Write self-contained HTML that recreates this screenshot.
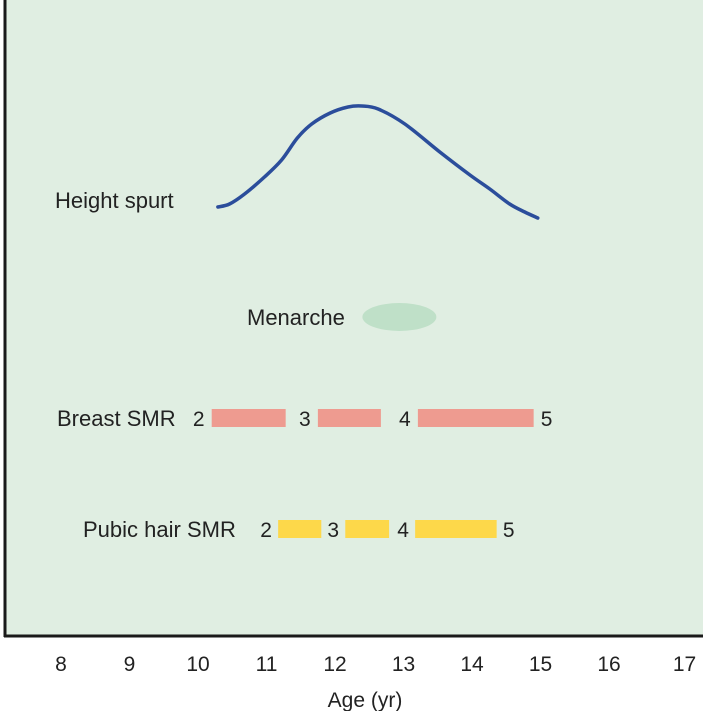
<!DOCTYPE html>
<html><head><meta charset="utf-8"><style>
body{margin:0;background:#fff;}
svg{display:block;font-family:"Liberation Sans",sans-serif;}
</style></head><body>
<svg id="chart" width="703" height="711">
<rect x="4" y="0" width="699" height="636" fill="#e0eee2"/>
<line x1="5" y1="0" x2="5" y2="637" stroke="#1a1a1a" stroke-width="3"/>
<line x1="4" y1="636" x2="703" y2="636" stroke="#1a1a1a" stroke-width="3"/>
<text x="365" y="707" font-size="21" text-anchor="middle" fill="#222">Age (yr)</text>
<text x="55" y="208" font-size="22" fill="#222">Height spurt</text>
<text x="247" y="325" font-size="22" fill="#222">Menarche</text>
<text x="57" y="426" font-size="22" fill="#222">Breast SMR</text>
<text x="83" y="537" font-size="22" fill="#222">Pubic hair SMR</text>
<g id="g"></g>
</svg>
<script>
const ticks=[8,9,10,11,12,13,14,15,16,17];
const curveAges=[10.29,10.46,10.68,10.97,11.22,11.45,11.66,11.93,12.19,12.39,12.63,13.02,13.53,13.97,14.26,14.55,14.77,14.96];
const curveVals=[2.3,2.6,3.6,5.3,7.0,9.2,10.6,11.7,12.3,12.4,12.1,10.6,7.8,5.5,4.1,2.6,1.8,1.2];
const menarcheAge=[12.94];
const breastStarts=[10.2,11.75,13.21];
const breastEnds=[11.28,12.67,14.9];
const breastLabels=["2","3","4","5"];
const pubicStarts=[11.17,12.15,13.17];
const pubicEnds=[11.8,12.79,14.36];
const pubicLabels=["2","3","4","5"];
const X=a=>61+(a-8)*68.5;
const Y=v=>230-v*10;
const NS="http://www.w3.org/2000/svg";
const g=document.getElementById('g');
function mk(t,attrs){const e=document.createElementNS(NS,t);for(const k in attrs)e.setAttribute(k,attrs[k]);g.appendChild(e);return e;}
ticks.forEach(t=>{const e=mk('text',{x:X(t)+(t==17?7:0),y:671,'font-size':21,'text-anchor':'middle',fill:'#222'});e.textContent=t;

});
const pts=curveAges.map((a,i)=>[X(a),Y(curveVals[i])]);
let d='M'+pts[0][0]+','+pts[0][1];
for(let i=0;i<pts.length-1;i++){const p0=pts[Math.max(0,i-1)],p1=pts[i],p2=pts[i+1],p3=pts[Math.min(pts.length-1,i+2)];
d+=' C'+(p1[0]+(p2[0]-p0[0])/6)+','+(p1[1]+(p2[1]-p0[1])/6)+' '+(p2[0]-(p3[0]-p1[0])/6)+','+(p2[1]-(p3[1]-p1[1])/6)+' '+p2[0]+','+p2[1];}
const p=mk('path',{d:d,fill:'none',stroke:'#2b4d9b','stroke-width':3.5,'stroke-linejoin':'round','stroke-linecap':'round'});


const el=mk('ellipse',{cx:X(menarcheAge[0]),cy:317,rx:37,ry:14,fill:'#bfe0c8'});


function bars(starts,ends,labels,cy,color,name,offs){
 starts.forEach((s,i)=>{const r=mk('rect',{x:X(s),y:cy-9,width:X(ends[i])-X(s),height:18,fill:color});
 
 });
 labels.forEach((l,i)=>{const x=i<starts.length?X(starts[i])-offs:X(ends[ends.length-1])+offs;
 const t=mk('text',{x:x,y:cy+8,'font-size':21,'text-anchor':'middle',fill:'#222'});t.textContent=l;
 
 });
}
bars(breastStarts,breastEnds,breastLabels,418,'#ee9b90','breast',13);
bars(pubicStarts,pubicEnds,pubicLabels,529,'#fdd84a','pubic',12);
</script>
</body></html>
